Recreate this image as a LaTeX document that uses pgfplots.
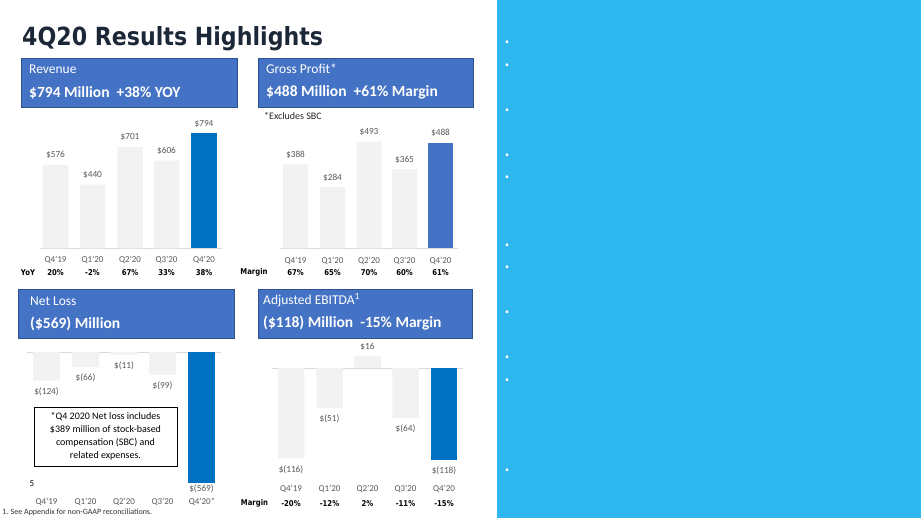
\documentclass[border=0pt]{standalone}
\usepackage{fontspec}
\setmainfont{Carlito}
\newfontfamily\titlefont[FakeStretch=0.885]{DejaVu Sans}
\newfontfamily\rowfont[FakeStretch=0.86]{DejaVu Sans}
\usepackage{pgfplots}
\pgfplotsset{compat=1.18}
\definecolor{boxblue}{HTML}{4472C4}
\definecolor{boxedge}{HTML}{2F528F}
\definecolor{hiblue}{HTML}{0070C0}
\definecolor{bargrey}{HTML}{F2F2F2}
\definecolor{lblgrey}{HTML}{595959}
\definecolor{basecol}{HTML}{D9D9D9}
\definecolor{panel}{RGB}{46,182,238}
\definecolor{titlecol}{RGB}{28,40,56}
\newcommand\tickfont{\fontsize{9bp}{11bp}\selectfont}
\newcommand\lblfont{\fontsize{9.3bp}{11bp}\selectfont}
\newcommand\rowbold{\rowfont\bfseries\fontsize{8bp}{9bp}\selectfont}
\pgfplotsset{
  chart/.style={
    scale only axis, anchor=south west, clip=false,
    axis line style={draw=none}, ytick=\empty,
    major tick length=0pt, xtick style={draw=none},
    ybar,
    xticklabel style={anchor=center, font=\tickfont, text=lblgrey, inner sep=0pt},
    every node near coord/.append style={font=\lblfont, text=lblgrey, inner sep=0pt, anchor=base},
  },
  rowticks/.style={extra x tick style={xticklabel style={font=\rowbold, text=black, yshift=#1}}},
}
\begin{document}
\begin{tikzpicture}
\path[use as bounding box, fill=white] (0,0) rectangle (921bp,518bp);
% right panel
\fill[panel] (497bp,0) rectangle (921bp,518bp);
\foreach \yy in {475,452,407,362,340,272,250,205,160,137,47}
  \node[text=white, font=\fontsize{8bp}{9bp}\selectfont, inner sep=0pt] at (507bp,\yy bp) {\textbullet};
% title
\node[anchor=base west, inner sep=0pt, text=titlecol, font=\titlefont\bfseries\fontsize{25bp}{30bp}\selectfont] at (22bp,472bp) {4Q20 Results Highlights};
% header boxes
\draw[fill=boxblue, draw=boxedge, line width=0.75bp] (21bp,411bp) rectangle (237bp,460bp);
\draw[fill=boxblue, draw=boxedge, line width=0.75bp] (258bp,411bp) rectangle (473bp,460bp);
\draw[fill=boxblue, draw=boxedge, line width=0.75bp] (18bp,180bp) rectangle (234bp,229bp);
\draw[fill=boxblue, draw=boxedge, line width=0.75bp] (258bp,180bp) rectangle (472bp,229bp);
\begin{scope}[every node/.style={anchor=base west, inner sep=0pt, text=white}]
\node[font=\fontsize{13.5bp}{16bp}\selectfont] at (29bp,444bp) {Revenue};
\node[font=\bfseries\fontsize{15.5bp}{18bp}\selectfont] at (29bp,420bp) {\$794 Million\ \ +38\% YOY};
\node[font=\fontsize{13.5bp}{16bp}\selectfont] at (266bp,444.5bp) {Gross Profit*};
\node[font=\bfseries\fontsize{15.5bp}{18bp}\selectfont] at (266bp,421bp) {\$488 Million\ \ +61\% Margin};
\node[font=\fontsize{13.5bp}{16bp}\selectfont] at (30bp,212bp) {Net Loss};
\node[font=\bfseries\fontsize{15.5bp}{18bp}\selectfont] at (30bp,189bp) {(\$569) Million};
\node[font=\fontsize{13.5bp}{16bp}\selectfont] at (263bp,213bp) {Adjusted EBITDA\textsuperscript{1}};
\node[font=\bfseries\fontsize{15.5bp}{18bp}\selectfont] at (263bp,190bp) {(\$118) Million\ \ -15\% Margin};
\end{scope}
% side texts
\node[anchor=west, inner sep=0pt, text=black!85, font=\fontsize{10bp}{12bp}\selectfont] at (264bp,402bp) {*Excludes SBC};
\node[inner sep=0pt, font=\rowbold] at (28bp,245.3bp) {YoY};
\node[inner sep=0pt, font=\rowbold] at (254bp,245.3bp) {Margin};
\node[inner sep=0pt, font=\rowbold] at (254.5bp,14.7bp) {Margin};
\node[inner sep=0pt, font=\fontsize{9bp}{11bp}\selectfont] at (32bp,34bp) {5};
\node[anchor=base west, inner sep=0pt, text=black!80, font=\fontsize{8bp}{9bp}\selectfont] at (2bp,4bp) {1. See Appendix for non-GAAP reconciliations.};
\node[draw=black, line width=0.75bp, minimum width=143bp, minimum height=59bp, align=center, inner sep=0pt, font=\fontsize{10bp}{13bp}\selectfont] at (105.5bp,81.5bp)
 {*Q4 2020 Net loss includes\\ \$389 million of stock-based\\ compensation (SBC) and\\ related expenses.};

% Revenue
\begin{axis}[chart, at={(40bp,269.7bp)}, width=182bp, height=115bp,
  xmin=40, xmax=222, ymin=0, ymax=794, bar width=25.5bp,
  xtick={55.5,92.5,130,166.5,204}, xticklabels={Q4'19,Q1'20,Q2'20,Q3'20,Q4'20},
  xticklabel style={yshift=-11.7bp},
  extra x ticks={55.5,92.5,130,166.5,204}, extra x tick labels={20\%,-2\%,67\%,33\%,38\%},
  rowticks=-12.7bp]
\draw[basecol, line width=0.75bp] (rel axis cs:0,0) -- (rel axis cs:1,0);
\addplot[fill=bargrey, draw=none, bar shift=0pt, nodes near coords={\pgfplotspointmeta}, point meta=explicit symbolic,
  every node near coord/.append style={yshift=7.1bp}]
  coordinates {(55.5,576) [\$576] (92.5,440) [\$440] (130,701) [\$701] (166.5,606) [\$606]};
\addplot[fill=hiblue, draw=none, bar shift=0pt, nodes near coords={\pgfplotspointmeta}, point meta=explicit symbolic,
  every node near coord/.append style={yshift=7.1bp}]
  coordinates {(204,794) [\$794]};
\end{axis}

% Gross profit
\begin{axis}[chart, at={(280bp,269.7bp)}, width=178bp, height=106.6bp,
  xmin=280, xmax=458, ymin=0, ymax=493, bar width=25bp,
  xtick={295.5,332.5,369,404.5,440.5}, xticklabels={Q4'19,Q1'20,Q2'20,Q3'20,Q4'20},
  xticklabel style={yshift=-13bp},
  extra x ticks={295.5,332.5,369,404.5,440.5}, extra x tick labels={67\%,65\%,70\%,60\%,61\%},
  rowticks=-11.4bp]
\draw[basecol, line width=0.75bp] (rel axis cs:0,0) -- (rel axis cs:1,0);
\addplot[fill=bargrey, draw=none, bar shift=0pt, nodes near coords={\pgfplotspointmeta}, point meta=explicit symbolic,
  every node near coord/.append style={yshift=6.8bp}]
  coordinates {(295.5,388) [\$388] (332.5,284) [\$284] (369,493) [\$493] (404.5,365) [\$365]};
\addplot[fill=boxblue, draw=none, bar shift=0pt, nodes near coords={\pgfplotspointmeta}, point meta=explicit symbolic,
  every node near coord/.append style={yshift=6.8bp}]
  coordinates {(440.5,488) [\$488]};
\end{axis}

% Net loss
\begin{axis}[chart, at={(27bp,35bp)}, width=194bp, height=131bp,
  xmin=27, xmax=221, ymin=-569, ymax=0, bar width=27bp,
  xtick={46.5,85.5,124,162.5,202}, xticklabels={Q4'19,Q1'20,Q2'20,Q3'20,Q4'20*},
  xticklabel style={yshift=-18.7bp}]
\draw[basecol, line width=0.75bp] (rel axis cs:0,1) -- (rel axis cs:1,1);
\addplot[fill=bargrey, draw=none, bar shift=0pt, nodes near coords={\pgfplotspointmeta}, point meta=explicit symbolic,
  every node near coord/.append style={yshift=-13.6bp}]
  coordinates {(46.5,-124) [\$(124)] (85.5,-66) [\$(66)] (124,-11) [\$(11)] (162.5,-99) [\$(99)]};
\addplot[fill=hiblue, draw=none, bar shift=0pt, nodes near coords={\pgfplotspointmeta}, point meta=explicit symbolic,
  every node near coord/.append style={yshift=-8.6bp}]
  coordinates {(201.5,-569) [\$(569)]};
\end{axis}

% Adjusted EBITDA
\begin{axis}[chart, at={(272bp,58bp)}, width=191bp, height=104.3bp,
  xmin=272, xmax=463, ymin=-118, ymax=16, bar width=26.5bp,
  xtick={291,329.5,367.5,405.5,444}, xticklabels={Q4'19,Q1'20,Q2'20,Q3'20,Q4'20},
  xticklabel style={yshift=-29.3bp},
  extra x ticks={291,329.5,367.5,405.5,444}, extra x tick labels={-20\%,-12\%,2\%,-11\%,-15\%},
  rowticks=-14bp]
\draw[basecol, line width=0.75bp] (axis cs:272,0) -- (axis cs:463,0);
\addplot[fill=bargrey, draw=none, bar shift=0pt, nodes near coords={\pgfplotspointmeta}, point meta=explicit symbolic,
  every node near coord/.append style={yshift=-13.8bp}]
  coordinates {(291,-116) [\$(116)] (329.5,-51) [\$(51)] (405.5,-64) [\$(64)]};
\addplot[fill=bargrey, draw=none, bar shift=0pt, nodes near coords={\pgfplotspointmeta}, point meta=explicit symbolic,
  every node near coord/.append style={yshift=5.8bp}]
  coordinates {(367.5,16) [\$16]};
\addplot[fill=hiblue, draw=none, bar shift=0pt, nodes near coords={\pgfplotspointmeta}, point meta=explicit symbolic,
  every node near coord/.append style={yshift=-13.8bp}]
  coordinates {(444,-118) [\$(118)]};
\end{axis}
\end{tikzpicture}
\end{document}
